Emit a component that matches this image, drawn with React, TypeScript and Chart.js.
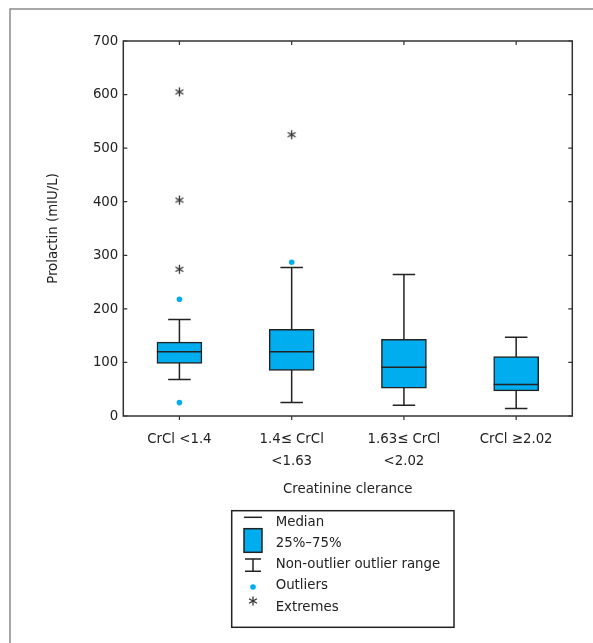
import React, { useEffect, useRef } from "react";
import { Chart, registerables } from "chart.js";

Chart.register(...registerables);

const categories: (string | string[])[] = [
  "CrCl <1.4",
  ["1.4≤ CrCl", "<1.63"],
  ["1.63≤ CrCl", "<2.02"],
  "CrCl ≥2.02",
];
const q1 = [98, 85, 52, 47];
const q3 = [138, 162, 143, 111];
const medians = [120, 120, 91, 59];
const whiskerLow = [68, 25, 20, 14];
const whiskerHigh = [180, 277, 264, 147];
const outlierCat = [0, 0, 1];
const outlierVal = [218, 25, 287];
const extremeCat = [0, 0, 0, 1];
const extremeVal = [605, 403, 274, 525];
const yTicks = [0, 100, 200, 300, 400, 500, 600, 700];
const legendLabels = ["Median", "25%–75%", "Non-outlier outlier range", "Outliers", "Extremes"];

const FONT = '"DejaVu Sans Condensed", "Liberation Sans Narrow", "DejaVu Sans", sans-serif';
const FS = 14.8;
const BLUE = "#00AEEF";
const INK = "#222222";

function drawAsteriskAt(g: CanvasRenderingContext2D, x: number, y: number) {
  g.save();
  g.strokeStyle = "#333";
  g.lineWidth = 1.3;
  const r = 4.6;
  for (let k = 0; k < 3; k++) {
    const a = (Math.PI / 3) * k + Math.PI / 2;
    g.beginPath();
    g.moveTo(x - r * Math.cos(a), y - r * Math.sin(a));
    g.lineTo(x + r * Math.cos(a), y + r * Math.sin(a));
    g.stroke();
  }
  g.restore();
}

function makeAsterisk(): HTMLCanvasElement {
  const c = document.createElement("canvas");
  c.width = 11;
  c.height = 11;
  const g = c.getContext("2d")!;
  drawAsteriskAt(g, 5.5, 5.5);
  return c;
}

const boxPlugin = {
  id: "boxExtras",
  beforeDraw(chart: any) {
    const g = chart.ctx as CanvasRenderingContext2D;
    g.save();
    g.fillStyle = "#fff";
    g.fillRect(0, 0, chart.width, chart.height);
    g.strokeStyle = "#8a8a8a";
    g.lineWidth = 1.5;
    g.beginPath();
    g.moveTo(10, chart.height);
    g.lineTo(10, 9);
    g.lineTo(chart.width, 9);
    g.stroke();
    g.restore();
  },
  beforeDatasetsDraw(chart: any) {
    const g = chart.ctx as CanvasRenderingContext2D;
    const x = chart.scales.x;
    const y = chart.scales.y;
    const meta = chart.getDatasetMeta(0);
    g.save();
    g.strokeStyle = INK;
    g.lineWidth = 1.5;
    categories.forEach((_, i) => {
      const cx = x.getPixelForValue(i);
      const half = (meta.data[i]?.width ?? 45) * 0.25;
      const yl = y.getPixelForValue(whiskerLow[i]);
      const yh = y.getPixelForValue(whiskerHigh[i]);
      g.beginPath();
      g.moveTo(cx, yl);
      g.lineTo(cx, yh);
      g.moveTo(cx - half, yl);
      g.lineTo(cx + half, yl);
      g.moveTo(cx - half, yh);
      g.lineTo(cx + half, yh);
      g.stroke();
    });
    g.restore();
  },
  afterDatasetsDraw(chart: any) {
    const g = chart.ctx as CanvasRenderingContext2D;
    const x = chart.scales.x;
    const y = chart.scales.y;
    const meta = chart.getDatasetMeta(0);
    g.save();
    g.strokeStyle = INK;
    g.lineWidth = 1.5;
    categories.forEach((_, i) => {
      const cx = x.getPixelForValue(i);
      const half = (meta.data[i]?.width ?? 45) / 2;
      const ym = y.getPixelForValue(medians[i]);
      g.beginPath();
      g.moveTo(cx - half, ym);
      g.lineTo(cx + half, ym);
      g.stroke();
    });
    g.restore();
  },
  afterDraw(chart: any) {
    const g = chart.ctx as CanvasRenderingContext2D;
    const a = chart.chartArea;
    const x = chart.scales.x;
    const y = chart.scales.y;
    g.save();
    g.strokeStyle = "#333";
    g.lineWidth = 1.5;
    g.strokeRect(a.left, a.top, a.right - a.left, a.bottom - a.top);
    g.lineWidth = 1.2;
    g.beginPath();
    yTicks.forEach((v) => {
      const py = y.getPixelForValue(v);
      g.moveTo(a.left, py);
      g.lineTo(a.left + 4, py);
      g.moveTo(a.right, py);
      g.lineTo(a.right - 4, py);
    });
    categories.forEach((_, i) => {
      const px = x.getPixelForValue(i);
      g.moveTo(px, a.bottom);
      g.lineTo(px, a.bottom + 4);
      g.moveTo(px, a.top);
      g.lineTo(px, a.top + 4);
    });
    g.stroke();

    // legend
    const L = 231.7, T = 510.7, R = 454, B = 627.3;
    g.strokeStyle = INK;
    g.lineWidth = 1.5;
    g.strokeRect(L, T, R - L, B - T);
    const rows = [521.7, 543.3, 564.3, 585, 606.7];
    const sx0 = 244, sx1 = 262, sc = 253;
    g.beginPath();
    g.moveTo(sx0, 517.3);
    g.lineTo(sx1, 517.3);
    g.stroke();
    g.fillStyle = BLUE;
    g.fillRect(sx0, 528.7, sx1 - sx0, 23.6);
    g.strokeRect(sx0, 528.7, sx1 - sx0, 23.6);
    g.beginPath();
    g.moveTo(sx0 + 1, 559);
    g.lineTo(sx1 - 1, 559);
    g.moveTo(sc, 559);
    g.lineTo(sc, 571.3);
    g.moveTo(sx0 + 1, 571.3);
    g.lineTo(sx1 - 1, 571.3);
    g.stroke();
    g.fillStyle = BLUE;
    g.beginPath();
    g.arc(sc, 587, 2.8, 0, Math.PI * 2);
    g.fill();
    drawAsteriskAt(g, sc, 601);
    g.fillStyle = INK;
    g.font = `${FS}px ${FONT}`;
    g.textAlign = "left";
    g.textBaseline = "middle";
    legendLabels.forEach((t, i) => g.fillText(t, 275.7, rows[i]));
    g.restore();
  },
};

export default function App() {
  const ref = useRef<HTMLCanvasElement | null>(null);
  useEffect(() => {
    document.body.style.margin = "0";
    const star = makeAsterisk();
    const chart = new Chart(ref.current!, {
      type: "bar",
      data: {
        labels: categories as any,
        datasets: [
          {
            type: "bar",
            data: q1.map((v, i) => [v, q3[i]]) as any,
            backgroundColor: BLUE,
            borderColor: INK,
            borderWidth: 1.5,
            borderSkipped: false,
            barThickness: 45,
            grouped: false,
          } as any,
          {
            type: "scatter",
            data: outlierVal.map((v, i) => ({ x: categories[outlierCat[i]], y: v })),
            backgroundColor: BLUE,
            borderWidth: 0,
            pointRadius: 2.8,
            pointStyle: "circle",
          } as any,
          {
            type: "scatter",
            data: extremeVal.map((v, i) => ({ x: categories[extremeCat[i]], y: v })),
            pointStyle: star,
            pointRadius: 5,
          } as any,
        ],
      },
      options: {
        animation: false,
        responsive: false,
        devicePixelRatio: 1,
        layout: { padding: { top: 41, right: 20.7, bottom: 145.2, left: 0 } },
        plugins: { legend: { display: false }, tooltip: { enabled: false } },
        scales: {
          x: {
            type: "category",
            offset: true,
            grid: { display: false, drawTicks: false },
            border: { display: false },
            ticks: {
              color: INK,
              padding: 12,
              maxRotation: 0,
              autoSkip: false,
              font: { family: FONT, size: FS, lineHeight: "22px" } as any,
            },
            title: {
              display: true,
              text: "Creatinine clerance",
              color: INK,
              padding: 0,
              font: { family: FONT, size: FS, lineHeight: 1.2 },
            },
            afterFit: (s: any) => {
              s.height = 81.8;
            },
          },
          y: {
            min: 0,
            max: 700,
            grid: { display: false, drawTicks: false },
            border: { display: false },
            ticks: {
              stepSize: 100,
              color: INK,
              padding: 5,
              font: { family: FONT, size: FS },
            },
            title: {
              display: true,
              text: "Prolactin (mIU/L)",
              color: INK,
              padding: { top: 44, bottom: 0 },
              font: { family: FONT, size: FS, lineHeight: 1.2 },
            },
            afterFit: (s: any) => {
              s.width = 123.3;
            },
          },
        },
      } as any,
      plugins: [boxPlugin],
    });
    return () => chart.destroy();
  }, []);
  return <canvas ref={ref} width={593} height={643} style={{ display: "block" }} />;
}
